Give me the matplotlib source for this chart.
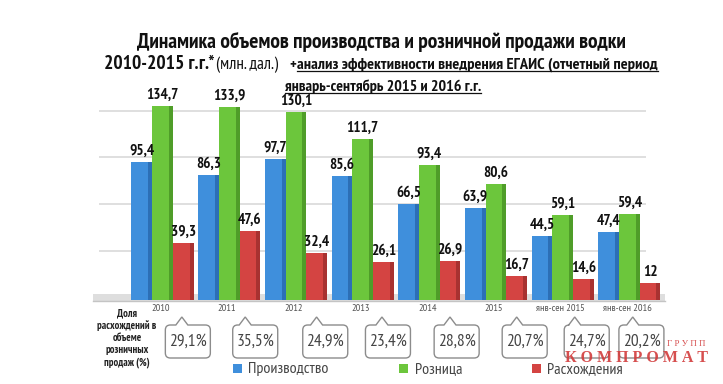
import matplotlib
matplotlib.use("Agg")
import matplotlib.pyplot as plt
from matplotlib import font_manager as fm
from matplotlib.path import Path
from matplotlib.patches import PathPatch, Rectangle
from matplotlib.lines import Line2D

# ---------------- data ----------------
categories = ["2010", "2011", "2012", "2013", "2014", "2015", "янв-сен 2015", "янв-сен 2016"]
production = [95.4, 86.3, 97.7, 85.6, 66.5, 63.9, 44.5, 47.4]
retail = [134.7, 133.9, 130.1, 111.7, 93.4, 80.6, 59.1, 59.4]
discrepancy = [39.3, 47.6, 32.4, 26.1, 26.9, 16.7, 14.6, 12]
share_pct = [29.1, 35.5, 24.9, 23.4, 28.8, 20.7, 24.7, 20.2]
series_names = ["Производство", "Розница", "Расхождения"]
share_label_lines = ["Доля", "расхождений в", "объеме", "розничных", "продаж (%)"]

# ---------------- fonts ----------------
names = {f.name for f in fm.fontManager.ttflist}
NARROW = "Liberation Sans"
for cand in ["PT Sans Narrow", "Liberation Sans Narrow", "Roboto Condensed", "Fira Sans Condensed",
             "Open Sans Condensed", "IBM Plex Sans Condensed", "Ubuntu Condensed"]:
    if cand in names:
        NARROW = cand
        break
SERIF = "Liberation Serif" if "Liberation Serif" in names else "DejaVu Serif"
FN = [NARROW, "DejaVu Sans"]

W, H = 723, 384
fig = plt.figure(figsize=(W / 100, H / 100), dpi=100)
fig.patch.set_facecolor("white")

def fx(px):
    return px / W

def fy(py):
    return 1 - py / H

# layout (pixels)
CAT0_PX, STEP_PX = 162.5, 66.7
AX_L, AX_R = 95, 665
BASE_PX, TOP_PX = 300, 80
PX_PER_UNIT = 1.443

xa = (AX_L - CAT0_PX) / STEP_PX
xb = (AX_R - CAT0_PX) / STEP_PX
ytop = (BASE_PX - TOP_PX) / PX_PER_UNIT

ov = fig.add_axes([0, 0, 1, 1], zorder=0)
ov.set_xlim(-CAT0_PX / STEP_PX, (W - CAT0_PX) / STEP_PX)
ov.set_ylim(H, 0)
ov.axis("off")

ax = fig.add_axes([fx(AX_L), fy(BASE_PX), (AX_R - AX_L) / W, (BASE_PX - TOP_PX) / H], zorder=2)
ax.set_xlim(xa, xb)
ax.set_ylim(0, ytop)
ax.axis("off")
ax.patch.set_alpha(0)

# floor
ov.add_patch(Rectangle((xa - 0.03, 294), (xb - xa) + 0.03, 6.5, facecolor="#dedede", edgecolor="none", zorder=1))
ov.add_line(Line2D([xa - 0.03, xb], [300.5, 300.5], color="#c4c4c4", lw=1, zorder=1))

# gridlines (back wall)
for gv in [34.1, 66.5, 99.1, 131.3]:
    ax.hlines(gv, -0.95, 7.25, color="#d9d9d9", lw=1.2, zorder=0)

# bars
x = list(range(len(categories)))
bw = 0.31
offs = [-0.31, 0.0, 0.31]
cols = ["#3f8fdc", "#6cc63c", "#d44442"]
dark = ["#2c6fb6", "#4f9d29", "#a83231"]
for k, (vals, c, d) in enumerate(zip([production, retail, discrepancy], cols, dark)):
    xs = [xi + offs[k] for xi in x]
    ax.bar(xs, vals, width=bw, color=c, edgecolor="none", zorder=2 + k)
    ax.bar([xx + bw / 2 - 0.03 for xx in xs], vals, width=0.06, color=d, edgecolor="none", zorder=2 + k)
    for xx, v in zip(xs, vals):
        ax.annotate(f"{v:g}".replace(".", ","), (xx, v), xytext=(0, 3), textcoords="offset points",
                    ha="center", va="bottom", fontsize=11, fontweight="bold", family=FN,
                    color="#111111", zorder=10)

# category labels
for xi, c in zip(x, categories):
    ov.text(xi - 0.03, 308.5, c, ha="center", va="center", fontsize=7.5, family=FN, color="#555555")

# callout boxes
BOX_DX = [0.38, 0.39, 0.44, 0.38, 0.41, 0.43, 0.36, 0.18]
PTR_DX = [0.29, 0.24, 0.31, 0.29, 0.31, 0.31, 0.18, 0.05]
bwid = 45 / STEP_PX
rx, ry = 5 / STEP_PX, 5
hw = 6 / STEP_PX
y0, y1, yt = 325, 358, 317
for xi, bdx, pdx, s in zip(x, BOX_DX, PTR_DX, share_pct):
    cx = xi + bdx
    xp = xi + pdx
    x0, x1 = cx - bwid / 2, cx + bwid / 2
    verts = [(x0 + rx, y0), (xp - hw, y0), (xp, yt), (xp + hw, y0), (x1 - rx, y0),
             (x1, y0), (x1, y0 + ry), (x1, y1 - ry), (x1, y1), (x1 - rx, y1),
             (x0 + rx, y1), (x0, y1), (x0, y1 - ry), (x0, y0 + ry), (x0, y0), (x0 + rx, y0),
             (x0 + rx, y0)]
    codes = [Path.MOVETO, Path.LINETO, Path.LINETO, Path.LINETO, Path.LINETO,
             Path.CURVE3, Path.CURVE3, Path.LINETO, Path.CURVE3, Path.CURVE3,
             Path.LINETO, Path.CURVE3, Path.CURVE3, Path.LINETO, Path.CURVE3, Path.CURVE3,
             Path.CLOSEPOLY]
    ov.add_patch(PathPatch(Path(verts, codes), facecolor="white", edgecolor="#8c8c8c", lw=1.0, zorder=3))
    ov.text(cx, 342, f"{s:.1f}".replace(".", ",") + "%", ha="center", va="center",
            fontsize=12.5, family=FN, color="#444444", zorder=4)

# left side label (one text per line)
for i, ln in enumerate(share_label_lines):
    fig.text(fx(127), fy(313.5 + 12.2 * i), ln, ha="center", va="center",
             fontsize=7.7, fontweight="bold", family=FN, color="#222222")

# legend
leg_sq = [232.7, 399, 531.7]
for sx, c, nm in zip(leg_sq, cols, series_names):
    fig.patches.append(Rectangle((fx(sx), fy(373)), 9 / W, 9 / H, transform=fig.transFigure,
                                 facecolor=c, edgecolor="none", figure=fig))
    fig.text(fx(sx + 15.5), fy(369.5), nm, ha="left", va="center", fontsize=11.5, family=FN,
             color="#444444")

# title
fig.text(fx(381.5), fy(48), "Динамика объемов производства и розничной продажи водки", ha="center",
         va="baseline", fontsize=15.5, fontweight="bold", family=FN, color="#111111")
fig.text(fx(104), fy(69), "2010-2015 г.г.*", ha="left", va="baseline", fontsize=14,
         fontweight="bold", family=FN, color="#111111")
fig.text(fx(216), fy(69), "(млн. дал.)", ha="left", va="baseline", fontsize=12.5, family=FN, color="#111111")
fig.text(fx(289), fy(69), "+", ha="left", va="baseline", fontsize=11, fontweight="bold", family=FN, color="#111111")
t1 = fig.text(fx(297), fy(69), "анализ эффективности внедрения ЕГАИС (отчетный период", ha="left",
              va="baseline", fontsize=11.8, fontweight="bold", family=FN, color="#111111")
t2 = fig.text(fx(285), fy(91), "январь-сентябрь 2015 и 2016 г.г.", ha="left",
              va="baseline", fontsize=11.5, fontweight="bold", family=FN, color="#111111")

fig.canvas.draw()
r = fig.canvas.get_renderer()
for t, by in [(t1, 69), (t2, 91)]:
    bb = t.get_window_extent(r)
    yy = fy(by + 2.0)
    fig.add_artist(Line2D([bb.x0 / W, bb.x1 / W], [yy, yy], transform=fig.transFigure,
                          color="#111111", lw=0.9))

# watermark
fig.text(fx(565), fy(361.5), "К О М П Р О М А Т", ha="left", va="baseline", fontsize=11.5,
         fontweight="bold", family=[SERIF, "DejaVu Serif"], color="#d23c3c", alpha=0.9, zorder=20)
fig.text(fx(667), fy(346.5), "Г Р У П П", ha="left", va="baseline", fontsize=6.5,
         family=[SERIF, "DejaVu Serif"], color="#d23c3c", alpha=0.9, zorder=20)

fig.savefig("out.png", dpi=100, facecolor="white")
